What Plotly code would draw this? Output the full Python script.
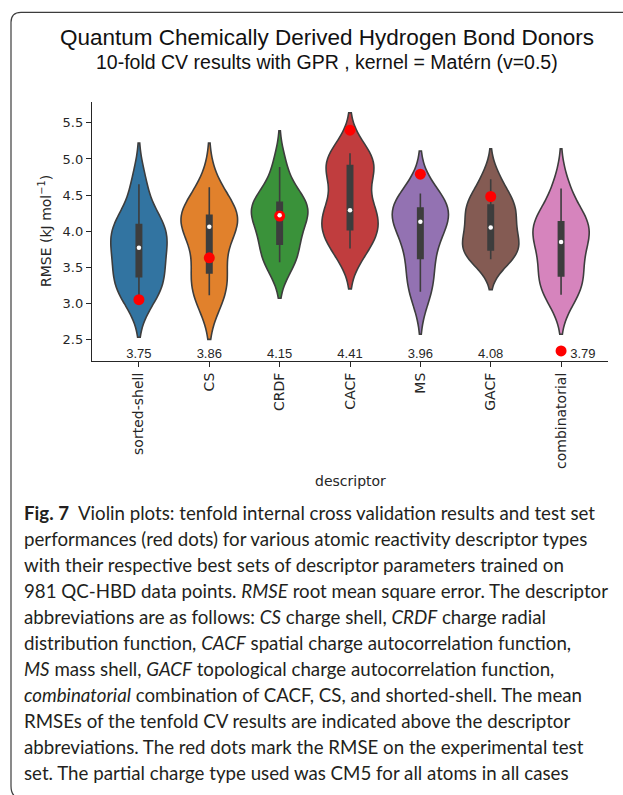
import numpy as np
import plotly.graph_objects as go

# ---------------- data ----------------
descriptors = ["sorted-shell", "CS", "CRDF", "CACF", "MS", "GACF", "combinatorial"]
cv_sorted_shell = [3.10, 3.18, 3.37, 3.45, 3.72, 3.82, 3.98, 4.09, 4.14, 4.65]
cv_cs = [3.11, 3.12, 3.42, 3.58, 4.00, 4.12, 4.18, 4.22, 4.24, 4.61]
cv_crdf = [3.57, 3.60, 3.82, 3.98, 4.18, 4.26, 4.35, 4.40, 4.45, 4.89]
cv_cacf = [3.76, 3.84, 4.02, 4.18, 4.24, 4.34, 4.80, 4.91, 4.93, 5.08]
cv_ms = [3.16, 3.28, 3.62, 3.82, 4.08, 4.18, 4.28, 4.32, 4.34, 4.52]
cv_gacf = [3.61, 3.68, 3.74, 3.86, 3.98, 4.12, 4.28, 4.36, 4.45, 4.72]
cv_combinatorial = [3.12, 3.20, 3.38, 3.54, 3.80, 3.90, 4.08, 4.13, 4.16, 4.59]
# KDE bandwidths estimated from the length of each violin's tails
kde_bandwidth = [0.285, 0.305, 0.25, 0.28, 0.295, 0.21, 0.275]
test_rmse = [3.05, 3.63, 4.21, 5.40, 4.79, 4.48, 2.34]
mean_cv_labels = ["3.75", "3.86", "4.15", "4.41", "3.96", "4.08", "3.79"]
y_ticks = [2.5, 3.0, 3.5, 4.0, 4.5, 5.0, 5.5]

cv_sets = [cv_sorted_shell, cv_cs, cv_crdf, cv_cacf, cv_ms, cv_gacf, cv_combinatorial]

caption_lines = [
    "<b>Fig. 7</b>  Violin plots: tenfold internal cross validation results and test set",
    "performances (red dots) for various atomic reactivity descriptor types",
    "with their respective best sets of descriptor parameters trained on",
    "981 QC-HBD data points. <i>RMSE</i> root mean square error. The descriptor",
    "abbreviations are as follows: <i>CS</i> charge shell, <i>CRDF</i> charge radial",
    "distribution function, <i>CACF</i> spatial charge autocorrelation function,",
    "<i>MS</i> mass shell, <i>GACF</i> topological charge autocorrelation function,",
    "<i>combinatorial</i> combination of CACF, CS, and shorted-shell. The mean",
    "RMSEs of the tenfold CV results are indicated above the descriptor",
    "abbreviations. The red dots mark the RMSE on the experimental test",
    "set. The partial charge type used was CM5 for all atoms in all cases",
]

# ---------------- style ----------------
colors = ["#3274a1", "#e1812c", "#3a923a", "#c03d3e", "#9372b2", "#845b53", "#d684bd"]
EDGE = "#3d3d3d"
AX = "#262626"
W, H = 623, 795
L, R, T, B = 92, 15, 102, 434
PW, PH = W - L - R, H - T - B


def px(x):
    return (x - L) / PW


def py(y):
    return (H - B - y) / PH


fig = go.Figure()

for i, (name, d, c, bw) in enumerate(zip(descriptors, cv_sets, colors, kde_bandwidth)):
    fig.add_trace(go.Violin(
        x0=i, y=d, name=name, width=0.8, bandwidth=bw, spanmode="soft",
        scalegroup="all", scalemode="width",
        fillcolor=c, opacity=1, line=dict(color=EDGE, width=1.6),
        points=False,
        box=dict(visible=True, width=0.095, fillcolor=EDGE,
                 line=dict(color=EDGE, width=1.6)),
        meanline=dict(visible=False), showlegend=False, hoverinfo="skip",
    ))

xs = list(range(len(descriptors)))
fig.add_trace(go.Scatter(
    x=xs, y=test_rmse, mode="markers",
    marker=dict(color="#ff0000", size=11, line=dict(width=0)),
    showlegend=False, hoverinfo="skip",
))
medians = [float(np.median(d)) for d in cv_sets]
fig.add_trace(go.Scatter(
    x=xs, y=medians, mode="markers",
    marker=dict(color="white", size=4.5, line=dict(width=0)),
    showlegend=False, hoverinfo="skip",
))

ymin = 2.2
label_y = 2.29
label_x = [i + (0.31 if t < y_ticks[0] else 0) for i, t in enumerate(test_rmse)]
fig.add_trace(go.Scatter(
    x=label_x, y=[label_y] * len(descriptors), mode="text", text=mean_cv_labels,
    textposition="middle center",
    textfont=dict(family="Liberation Sans, Arial", size=13, color=AX),
    showlegend=False, hoverinfo="skip",
))

annotations = [
    dict(text="Quantum Chemically Derived Hydrogen Bond Donors",
         x=px(327), y=py(37), xref="paper", yref="paper", showarrow=False,
         xanchor="center", yanchor="middle",
         font=dict(family="Liberation Sans, Arial", size=22.5, color="#111111")),
    dict(text="10-fold CV results with GPR , kernel = Matérn (v=0.5)",
         x=px(327), y=py(62), xref="paper", yref="paper", showarrow=False,
         xanchor="center", yanchor="middle",
         font=dict(family="Liberation Sans, Arial", size=19.5, color="#111111")),
    dict(text="RMSE (kJ mol<sup>−1</sup>)", textangle=-90,
         x=px(45), y=py(231), xref="paper", yref="paper", showarrow=False,
         xanchor="center", yanchor="middle",
         font=dict(family="DejaVu Sans", size=14, color=AX)),
    dict(text="descriptor",
         x=px(350), y=py(481), xref="paper", yref="paper", showarrow=False,
         xanchor="center", yanchor="middle",
         font=dict(family="DejaVu Sans", size=14, color=AX)),
]
for k, line in enumerate(caption_lines):
    annotations.append(dict(
        text=line, x=px(22), y=py(513 + 26 * k), xref="paper", yref="paper",
        showarrow=False, xanchor="left", yanchor="middle", align="left",
        font=dict(family="Lato", size=18.7, color="#231f20"),
    ))

# rounded frame around the figure (top-left corner visible)
r = 10
path = (f"M {px(630)},{py(12.3)} L {px(11 + r)},{py(12.3)} "
        f"Q {px(11)},{py(12.3)} {px(11)},{py(12.3 + r)} "
        f"L {px(11)},{py(786)} Q {px(11)},{py(798)} {px(11 + r)},{py(798)} "
        f"L {px(630)},{py(798)}")
shapes = [dict(type="path", path=path, xref="paper", yref="paper",
               line=dict(color="#3c3c3c", width=1.2))]

fig.update_layout(
    width=W, height=H, margin=dict(l=L, r=R, t=T, b=B, autoexpand=False),
    paper_bgcolor="white", plot_bgcolor="white",
    violinmode="overlay", violingap=0,
    annotations=annotations, shapes=shapes,
    font=dict(family="DejaVu Sans", color=AX),
    xaxis=dict(type="linear", range=[-0.667, 6.667], tickmode="array",
               tickvals=xs, ticktext=descriptors, tickangle=-90,
               ticks="outside", ticklen=5, tickwidth=1.25, tickcolor=AX,
               showline=True, linecolor=AX, linewidth=1.25,
               showgrid=False, zeroline=False,
               tickfont=dict(family="DejaVu Sans", size=14, color=AX)),
    yaxis=dict(range=[ymin, 5.79], tickmode="array", tickvals=y_ticks,
               ticktext=[f"{v:.1f}" for v in y_ticks],
               ticks="outside", ticklen=5, tickwidth=1.25, tickcolor=AX,
               showline=True, linecolor=AX, linewidth=1.25,
               showgrid=False, zeroline=False,
               tickfont=dict(family="DejaVu Sans", size=13, color=AX)),
)

fig.write_html("out.html")
